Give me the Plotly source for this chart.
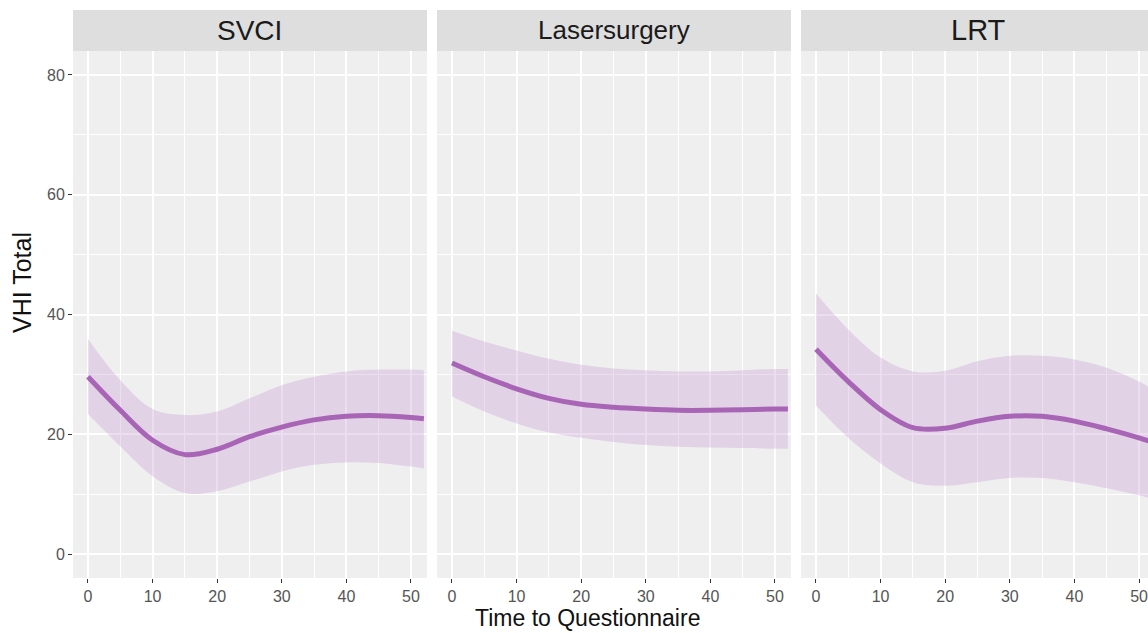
import plotly.graph_objects as go

W, H = 1148, 633

panels = ["SVCI", "Lasersurgery", "LRT"]
title_sizes = [28, 26, 29]

t = [0, 5, 10, 15, 20, 25, 30, 35, 40, 45, 50, 52]

svci_fit = [29.6, 24.0, 19.0, 16.6, 17.5, 19.6, 21.2, 22.4, 23.0, 23.1, 22.8, 22.6]
svci_hi = [35.9, 29.0, 24.2, 23.2, 23.8, 26.0, 28.2, 29.6, 30.5, 30.8, 30.8, 30.7]
svci_lo = [23.4, 18.0, 13.0, 10.2, 10.5, 12.1, 13.8, 14.9, 15.3, 15.2, 14.6, 14.3]

laser_fit = [31.9, 29.6, 27.6, 26.0, 25.0, 24.5, 24.2, 24.0, 24.0, 24.1, 24.2, 24.2]
laser_hi = [37.3, 35.5, 34.0, 32.6, 31.6, 31.0, 30.7, 30.5, 30.5, 30.7, 30.9, 30.9]
laser_lo = [26.3, 23.8, 21.8, 20.3, 19.4, 18.7, 18.2, 17.9, 17.8, 17.7, 17.6, 17.6]

lrt_fit = [34.2, 28.8, 24.1, 21.1, 21.0, 22.2, 23.0, 23.0, 22.2, 20.9, 19.4, 18.7]
lrt_hi = [43.5, 37.5, 32.8, 30.5, 30.6, 32.2, 33.1, 33.1, 32.5, 31.1, 28.8, 27.6]
lrt_lo = [24.8, 19.4, 15.1, 12.0, 11.4, 12.0, 12.7, 12.7, 12.0, 11.0, 9.8, 9.2]

fits = [svci_fit, laser_fit, lrt_fit]
his = [svci_hi, laser_hi, lrt_hi]
los = [svci_lo, laser_lo, lrt_lo]

x_ticks = [0, 10, 20, 30, 40, 50]
y_ticks = [0, 20, 40, 60, 80]

# pixel layout
panel_px = [(73, 427), (437, 791), (801, 1148)]
x_ranges = [[-2.32, 52.48], [-2.32, 52.48], [-2.32, 51.39]]
plot_top, plot_bot = 51, 578
strip_top = 10

line_col = "#A865B5"
band_col = "rgba(196,150,210,0.32)"
bg_col = "#EFEFEF"
strip_col = "#DEDEDE"
font_fam = "Liberation Sans, Arial"

fig = go.Figure()

def px2fx(p):
    return p / W

def py2fy(p):
    return 1 - p / H

for i, name in enumerate(panels):
    xa = "x" if i == 0 else f"x{i+1}"
    ya = "y" if i == 0 else f"y{i+1}"
    fig.add_trace(go.Scatter(x=t, y=los[i], mode="lines", line=dict(width=0, shape="spline", color=band_col),
                             xaxis=xa, yaxis=ya, showlegend=False, hoverinfo="skip"))
    fig.add_trace(go.Scatter(x=t, y=his[i], mode="lines", line=dict(width=0, shape="spline", color=band_col),
                             fill="tonexty", fillcolor=band_col,
                             xaxis=xa, yaxis=ya, showlegend=False, hoverinfo="skip"))
    fig.add_trace(go.Scatter(x=t, y=fits[i], mode="lines", line=dict(width=5, shape="spline", color=line_col),
                             xaxis=xa, yaxis=ya, showlegend=False))

    x0, x1 = panel_px[i]
    axkey = "xaxis" if i == 0 else f"xaxis{i+1}"
    aykey = "yaxis" if i == 0 else f"yaxis{i+1}"
    fig.layout[axkey] = dict(
        domain=[px2fx(x0), px2fx(x1)], range=x_ranges[i], anchor=ya,
        tickvals=x_ticks, ticktext=[str(v) for v in x_ticks],
        showgrid=True, gridcolor="white", gridwidth=1.6,
        minor=dict(dtick=5, tick0=0, showgrid=True, gridcolor="white", gridwidth=0.8),
        ticks="outside", ticklen=4, tickwidth=1.3, tickcolor="#333333",
        tickfont=dict(family=font_fam, size=16, color="#555555"),
        ticklabeloverflow="allow",
        zeroline=False, showline=False, fixedrange=True,
    )
    fig.layout[aykey] = dict(
        domain=[py2fy(plot_bot), py2fy(plot_top)], range=[-4, 84], anchor=xa,
        tickvals=y_ticks, ticktext=[str(v) for v in y_ticks],
        showgrid=True, gridcolor="white", gridwidth=1.6,
        minor=dict(dtick=10, tick0=0, showgrid=True, gridcolor="white", gridwidth=0.8),
        ticks="outside" if i == 0 else "", ticklen=4, tickwidth=1.3, tickcolor="#333333",
        showticklabels=(i == 0),
        tickfont=dict(family=font_fam, size=16, color="#555555"),
        zeroline=False, showline=False, fixedrange=True,
    )

shapes = []
annotations = []
for i, name in enumerate(panels):
    x0, x1 = panel_px[i]
    shapes.append(dict(type="rect", xref="paper", yref="paper", layer="below",
                       x0=px2fx(x0), x1=px2fx(x1), y0=py2fy(plot_top), y1=py2fy(strip_top),
                       fillcolor=strip_col, line=dict(width=0)))
    shapes.append(dict(type="rect", xref="paper", yref="paper", layer="below",
                       x0=px2fx(x0), x1=px2fx(x1), y0=py2fy(plot_bot), y1=py2fy(plot_top),
                       fillcolor=bg_col, line=dict(width=0)))
    cx = (x0 + 354 / 2) if i == 2 else (x0 + x1) / 2
    annotations.append(dict(text=name, x=px2fx(cx), y=py2fy((plot_top + strip_top) / 2),
                            xref="paper", yref="paper", showarrow=False,
                            xanchor="center", yanchor="middle",
                            font=dict(family=font_fam, size=title_sizes[i], color="#1A1A1A")))

annotations.append(dict(text="VHI Total", x=px2fx(22), y=py2fy(283), xref="paper", yref="paper",
                        showarrow=False, textangle=-90, xanchor="center", yanchor="middle",
                        font=dict(family=font_fam, size=25, color="#111111")))
annotations.append(dict(text="Time to Questionnaire", x=px2fx(587), y=py2fy(618), xref="paper", yref="paper",
                        showarrow=False, xanchor="center", yanchor="middle",
                        font=dict(family=font_fam, size=23, color="#111111")))

fig.update_layout(
    width=W, height=H,
    margin=dict(l=0, r=0, t=0, b=0),
    paper_bgcolor="white", plot_bgcolor="rgba(0,0,0,0)",
    shapes=shapes, annotations=annotations,
    showlegend=False,
)

fig.write_html("out.html", config={"displayModeBar": False},
               post_script="document.body.style.margin='0';document.body.style.overflow='hidden';")
